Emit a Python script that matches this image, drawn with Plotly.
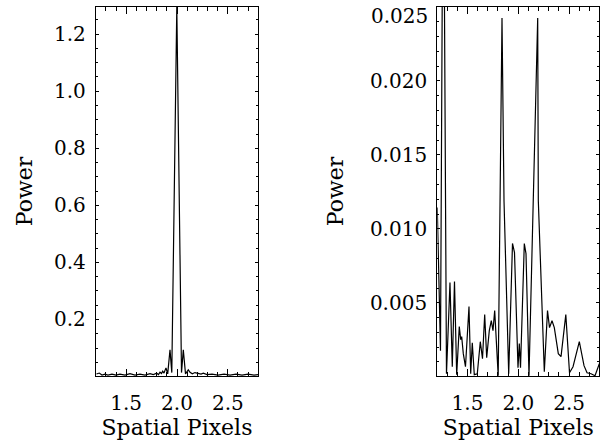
import plotly.graph_objects as go
from plotly.subplots import make_subplots

# ---- Left panel: power spectrum (main peak at 2.0) ----
left_x = [1.2077, 1.2352, 1.2618, 1.2913, 1.3209, 1.3602, 1.3996, 1.4390, 1.4882,
          1.5374, 1.5866, 1.6358, 1.6850, 1.7343, 1.7667, 1.8002, 1.8179, 1.8327,
          1.8474, 1.8593, 1.8720, 1.8917, 1.9085, 1.9311, 1.9488, 1.9980, 2.0443,
          2.0620, 2.0837, 2.1112, 2.1280, 2.1506, 2.1772, 2.2096, 2.2362, 2.2589,
          2.2953, 2.3445, 2.4035, 2.4626, 2.5217, 2.5807, 2.6398, 2.6988, 2.7579,
          2.7970]
left_y = [0.0088, 0.0123, 0.0053, 0.0088, 0.0053, 0.0088, 0.0053, 0.0088, 0.0053,
          0.0105, 0.0053, 0.0088, 0.0053, 0.0105, 0.0070, 0.0116, 0.0070, 0.0151,
          0.0105, 0.0186, 0.0123, 0.0305, 0.0095, 0.0937, 0.0140, 1.2950, 0.0140,
          0.0937, 0.0095, 0.0235, 0.0151, 0.0095, 0.0140, 0.0123, 0.0088, 0.0116,
          0.0070, 0.0088, 0.0053, 0.0088, 0.0053, 0.0088, 0.0053, 0.0088, 0.0053,
          0.0070]

# ---- Right panel: power spectrum (twin peaks) ----
right_x = [1.2028, 1.2343, 1.2618, 1.2933, 1.3278, 1.3504, 1.3721, 1.3937, 1.4193,
           1.4331, 1.4429, 1.4587, 1.4803, 1.5148, 1.5315, 1.5472, 1.5669, 1.5965,
           1.6260, 1.6476, 1.6693, 1.6890, 1.7146, 1.7343, 1.7510, 1.7677, 1.8022,
           1.8396, 1.8593, 1.9055, 1.9429, 1.9626, 1.9970, 2.0098, 2.0217, 2.0591,
           2.0758, 2.1053, 2.1909, 2.1969, 2.2559, 2.2874, 2.3071, 2.3317, 2.3543,
           2.3937, 2.4203, 2.4675, 2.5039, 2.5384, 2.6004, 2.6467, 2.6762, 2.7156,
           2.7549, 2.7972]
right_y = [0.01145, 0.00176, 0.04000, 0.00020, 0.00637, 0.00068, 0.00644, 0.00014,
           0.00339, 0.00251, 0.00271, 0.00156, 0.00068, 0.00474, 0.00020, 0.00230,
           0.00014, 0.00020, 0.00237, 0.00122, 0.00420, 0.00129, 0.00312, 0.00379,
           0.00312, 0.00447, 0.00007, 0.02425, 0.01192, 0.00020, 0.00901, 0.00840,
           0.00061, 0.00224, 0.00061, 0.00901, 0.00833, 0.00007, 0.02425, 0.01192,
           0.00034, 0.00447, 0.00332, 0.00379, 0.00332, 0.00156, 0.00136, 0.00420,
           0.00027, 0.00068, 0.00237, 0.00075, 0.00027, 0.00020, 0.00007, 0.00088]

x_ticks = [1.5, 2.0, 2.5]
left_y_ticks = [0.2, 0.4, 0.6, 0.8, 1.0, 1.2]
right_y_ticks = [0.005, 0.010, 0.015, 0.020, 0.025]
x_title = "Spatial Pixels"
y_title = "Power"

FONT = "DejaVu Serif"
W, H = 610, 447

fig = make_subplots(rows=1, cols=2)
fig.add_trace(go.Scatter(x=left_x, y=left_y, mode="lines",
                         line=dict(color="black", width=1.2), showlegend=False), 1, 1)
fig.add_trace(go.Scatter(x=right_x, y=right_y, mode="lines",
                         line=dict(color="black", width=1.2), showlegend=False), 1, 2)

xcommon = dict(range=[1.203, 2.797], tickmode="array", tickvals=x_ticks,
               tickformat=".1f", ticks="inside", ticklen=7, tickwidth=1,
               tickcolor="black", showline=True, linecolor="black", linewidth=1.3,
               mirror="allticks", showgrid=False, zeroline=False,
               minor=dict(tickmode="linear", tick0=0, dtick=0.1, ticks="inside",
                          ticklen=4, tickcolor="black", showgrid=False),
               tickfont=dict(family=FONT, size=20, color="black"),
               ticklabelstandoff=9, automargin=False,
               title=dict(text=x_title, font=dict(family=FONT, size=22, color="black"),
                          standoff=3))


def ycommon(standoff):
    return dict(ticks="inside", ticklen=3, tickwidth=1, tickcolor="black",
                showline=True, linecolor="black", linewidth=1.3, mirror="allticks",
                showgrid=False, zeroline=False, automargin=False,
                tickfont=dict(family=FONT, size=20, color="black"),
                ticklabelstandoff=5,
                title=dict(text=y_title, font=dict(family=FONT, size=22, color="black"),
                           standoff=standoff))


fig.update_layout(
    width=W, height=H,
    margin=dict(l=0, r=0, t=0, b=0),
    paper_bgcolor="white", plot_bgcolor="white",
    xaxis=dict(domain=[96 / W, 258 / W], **xcommon),
    xaxis2=dict(domain=[437.3 / W, 599.3 / W], **xcommon),
    yaxis=dict(domain=[1 - 376 / H, 1 - 7 / H], range=[0.002, 1.295],
               tickmode="array", tickvals=left_y_ticks, tickformat=".1f",
               minor=dict(tickmode="linear", tick0=0, dtick=0.05, ticks="inside",
                          ticklen=2, tickcolor="black", showgrid=False),
               **ycommon(15)),
    yaxis2=dict(domain=[1 - 376 / H, 1 - 7 / H], range=[0.00005, 0.025],
                tickmode="array", tickvals=right_y_ticks[:-1], tickformat=".3f",
                minor=dict(tickmode="linear", tick0=0, dtick=0.001, ticks="inside",
                           ticklen=2, tickcolor="black", showgrid=False),
                **ycommon(20)),
)

# top label of the right panel sits slightly below its tick, as in the original
fig.add_annotation(x=0, xref="x2 domain", y=right_y_ticks[-1], yref="y2",
                   text=f"{right_y_ticks[-1]:.3f}", showarrow=False,
                   xanchor="right", yanchor="middle", xshift=-7, yshift=-9,
                   font=dict(family=FONT, size=20, color="black"))

fig.write_html("out.html", config={"displayModeBar": False},
               post_script="document.body.style.margin='0px';")
